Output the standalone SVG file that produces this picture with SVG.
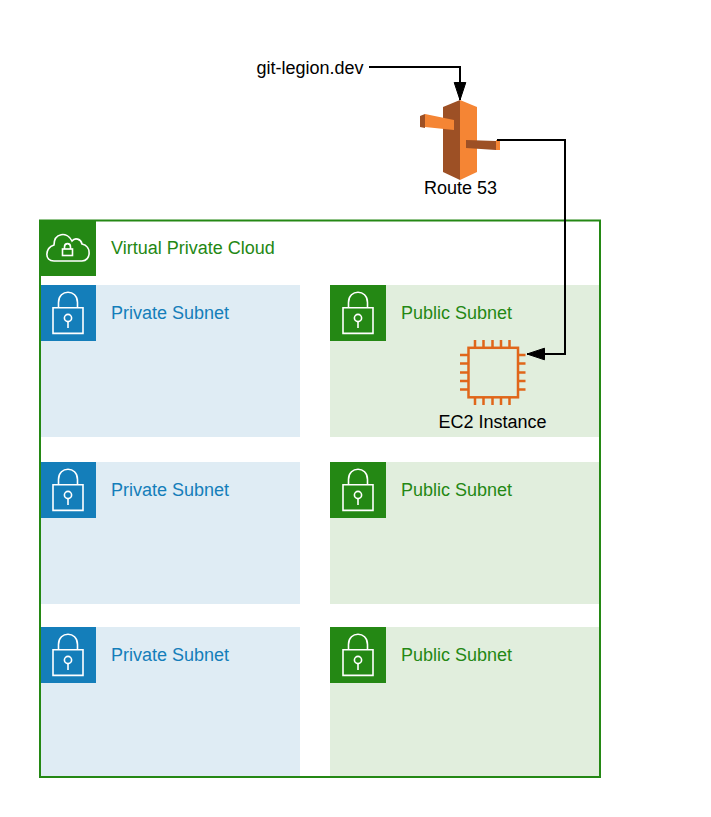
<svg xmlns="http://www.w3.org/2000/svg" width="711" height="817" viewBox="0 0 711 817">
<style>
text{font-family:"Liberation Sans",Arial,sans-serif;font-size:18px}
.priv{fill:#dfecf4}.pub{fill:#e1eedd}
.pt{fill:#147eba}.gt{fill:#248814}.k{fill:#000}
.ico{fill:none;stroke:#fff;stroke-width:1.6}
.conn{fill:none;stroke:#000;stroke-width:2}
</style>
<defs>
<marker id="arrow" markerUnits="userSpaceOnUse" markerWidth="20" markerHeight="18" refX="18" refY="9" orient="auto"><path d="M0.500 3.200 18 9 0.500 14.800Z" fill="#000" stroke="#000" stroke-width="1"/></marker>
<g id="lock"><path class="ico" d="M13 22.800H43V48.400H13ZM18.500 22.800V17.500C18.500 3.800 37.500 3.800 37.500 17.500V22.800M28 36.500V43"/><circle class="ico" cx="28" cy="33" r="3.600"/></g>
</defs>
<rect width="711" height="817" fill="#fff"/>
<g id="vpc">
<rect x="40" y="220.500" width="560" height="556.500" fill="#fff" stroke="#248814" stroke-width="2"/>
<rect x="40" y="220" width="56" height="56" fill="#248814"/>
<path class="ico" d="M54 261H82C91 261 92 246 82 244C81 239 75 237 72 241C67 231 54 233 54 245C45 248 44 261 54 261Z"/>
<rect class="ico" x="62.500" y="249" width="10" height="6.500"/><path class="ico" d="M64.500 249V247C64.500 242.500 70.500 242.500 70.500 247V249"/>
<text class="gt" x="111" y="254">Virtual Private Cloud</text>
</g>
<g id="private1"><rect class="priv" x="41" y="285" width="259" height="152"/><rect x="41" y="285" width="55" height="56" fill="#147eba"/><use href="#lock" x="40" y="285"/><text class="pt" x="111" y="319">Private Subnet</text></g>
<g id="private2"><rect class="priv" x="41" y="462" width="259" height="142"/><rect x="41" y="462" width="55" height="56" fill="#147eba"/><use href="#lock" x="40" y="462"/><text class="pt" x="111" y="496">Private Subnet</text></g>
<g id="private3"><rect class="priv" x="41" y="627" width="259" height="149"/><rect x="41" y="627" width="55" height="56" fill="#147eba"/><use href="#lock" x="40" y="627"/><text class="pt" x="111" y="661">Private Subnet</text></g>
<g id="public1"><rect class="pub" x="330" y="285" width="269" height="152"/><rect x="330" y="285" width="56" height="56" fill="#248814"/><use href="#lock" x="330" y="285"/><text class="gt" x="401" y="319">Public Subnet</text></g>
<g id="public2"><rect class="pub" x="330" y="462" width="269" height="142"/><rect x="330" y="462" width="56" height="56" fill="#248814"/><use href="#lock" x="330" y="462"/><text class="gt" x="401" y="496">Public Subnet</text></g>
<g id="public3"><rect class="pub" x="330" y="627" width="269" height="149"/><rect x="330" y="627" width="56" height="56" fill="#248814"/><use href="#lock" x="330" y="627"/><text class="gt" x="401" y="661">Public Subnet</text></g>
<g id="ec2">
<rect x="468.500" y="347.800" width="49.500" height="49.500" fill="none" stroke="#e0661a" stroke-width="2.500"/>
<path fill="none" stroke="#e0661a" stroke-width="2.500" d="M475 348V340M483.500 348V340M492.500 348V340M501 348V340M509.500 348V340M475 397V405M483.500 397V405M492.500 397V405M501 397V405M509.500 397V405M468 355H460M468 363.500H460M468 372.500H460M468 381H460M468 389.500H460M518 355H525.500M518 363.500H525.500M518 372.500H525.500M518 381H525.500M518 389.500H525.500"/>
<text class="k" x="492.500" y="428" text-anchor="middle">EC2 Instance</text>
</g>
<g id="route53">
<path fill="#9d5025" d="M460 100 443 107V172L460 180Z"/>
<path fill="#f58534" d="M460 100 477 107V172L460 180Z"/>
<path fill="#9d5025" d="M420 116 425 114V128L420 127Z"/>
<path fill="#f58534" d="M425 114 454 120V130L425 127Z"/>
<path fill="#9d5025" d="M466 140 496 141V150L466 148Z"/>
<path fill="#f58534" d="M496 140 500 140V150L496 150Z"/>
<text class="k" x="460.500" y="194" text-anchor="middle">Route 53</text>
</g>
<g id="domain"><text class="k" x="310" y="73.500" text-anchor="middle">git-legion.dev</text></g>
<g id="connectors">
<path class="conn" d="M369 67H460V100" marker-end="url(#arrow)"/>
<path class="conn" d="M497 140H565V354H527" marker-end="url(#arrow)"/>
</g>
</svg>
